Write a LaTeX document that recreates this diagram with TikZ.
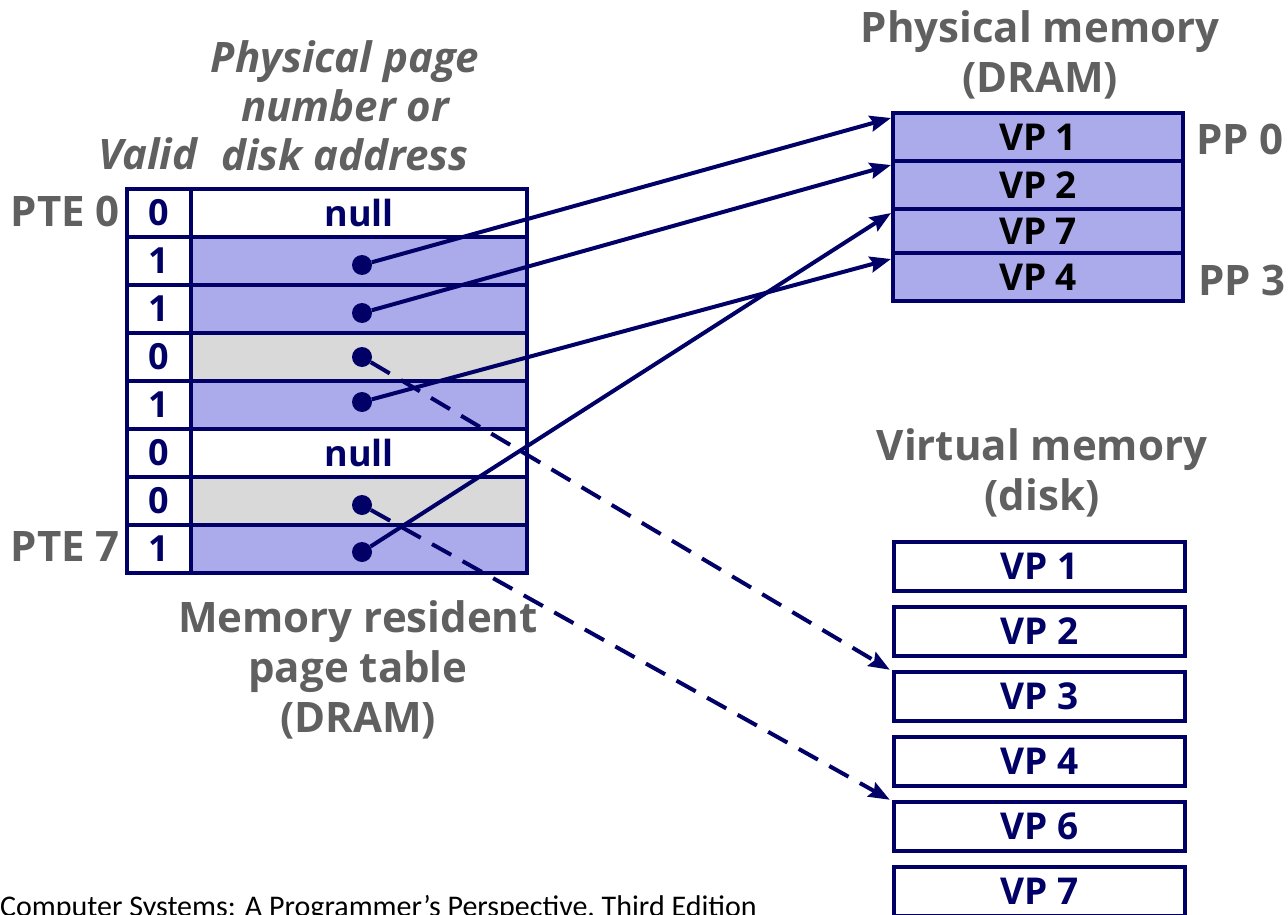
\documentclass[tikz,border=0pt]{standalone}
\usepackage{fontspec}
\setmainfont{Open Sans}
\newfontfamily\footfont{Carlito}
\usetikzlibrary{arrows.meta,calc}
\definecolor{navy}{HTML}{000066}
\definecolor{vblue}{HTML}{ABABEB}
\definecolor{lgray}{HTML}{D9D9D9}
\definecolor{labgray}{HTML}{606060}
\begin{document}
\begin{tikzpicture}[x=1pt,y=-1pt,
  cellv/.style={draw=navy, line width=4.5pt, minimum width=64pt, minimum height=48pt, inner sep=0pt, font=\fontsize{36}{36}\selectfont\bfseries, text=navy},
  cellp/.style={cellv, minimum width=336pt},
  pmrow/.style={draw=navy, line width=4pt, fill=vblue, minimum width=290pt, inner sep=0pt, font=\fontsize{37}{37}\selectfont\bfseries, text=black},
  diskbox/.style={draw=navy, line width=4.5pt, fill=white, minimum width=291pt, minimum height=49pt, inner sep=0pt, font=\fontsize{37}{37}\selectfont\bfseries, text=navy},
  dot/.style={circle, fill=navy, minimum size=20pt, inner sep=0pt},
  lbl/.style={font=\fontsize{42}{50}\selectfont\bfseries, text=labgray, align=center, inner sep=0pt},
  lbli/.style={lbl, font=\fontsize{42}{49}\selectfont\bfseries\itshape},
  arr/.style={draw=navy, line width=4pt, -{Stealth[length=21pt,width=16pt,inset=3pt]}},
  darr/.style={arr, dash pattern=on 22pt off 13pt}
]
\useasboundingbox[fill=white] (0,0) rectangle (1288,915);

% page table
\node[cellp, fill=white] (p0) at (359,213) {null};
\node[cellp, fill=vblue] (p1) at (359,261) {};
\node[cellp, fill=vblue] (p2) at (359,309) {};
\node[cellp, fill=lgray] (p3) at (359,357) {};
\node[cellp, fill=vblue] (p4) at (359,405) {};
\node[cellp, fill=white] (p5) at (359,453) {null};
\node[cellp, fill=lgray] (p6) at (359,501) {};
\node[cellp, fill=vblue] (p7) at (359,549) {};
\node[cellv, fill=white] (v0) at (159,213) {0};
\node[cellv, fill=white] (v1) at (159,261) {1};
\node[cellv, fill=white] (v2) at (159,309) {1};
\node[cellv, fill=white] (v3) at (159,357) {0};
\node[cellv, fill=white] (v4) at (159,405) {1};
\node[cellv, fill=white] (v5) at (159,453) {0};
\node[cellv, fill=white] (v6) at (159,501) {0};
\node[cellv, fill=white] (v7) at (159,549) {1};

% dots
\node[dot] (d1) at (362,265) {};
\node[dot] (d2) at (362,313) {};
\node[dot] (d3) at (362,357) {};
\node[dot] (d4) at (362,402) {};
\node[dot] (d6) at (362,505) {};
\node[dot] (d7) at (362,552) {};

% physical memory
\node[pmrow, minimum height=48pt] (pm1) at (1038,137) {VP 1};
\node[pmrow, minimum height=48pt] (pm2) at (1038,185) {VP 2};
\node[pmrow, minimum height=44pt] (pm7) at (1038,231) {VP 7};
\node[pmrow, minimum height=48pt] (pm4) at (1038,277) {VP 4};

% disk
\node[diskbox] (k1) at (1039.5,566.5) {VP 1};
\node[diskbox] (k2) at (1039.5,631.5) {VP 2};
\node[diskbox] (k3) at (1039.5,696.5) {VP 3};
\node[diskbox] (k4) at (1039.5,761.5) {VP 4};
\node[diskbox] (k6) at (1039.5,826.5) {VP 6};
\node[diskbox] (k7) at (1039.5,891.5) {VP 7};

% arrow targets
\coordinate (t1) at ($(pm1.north west)+(0,7)$);
\coordinate (t2) at ($(pm2.north west)+(0,6)$);
\coordinate (t7) at ($(pm7.north west)+(0,6)$);
\coordinate (t4) at ($(pm4.north west)+(0,8)$);
\coordinate (t3) at ($(k3.north west)+(-2,0)$);
\coordinate (t6) at ($(k6.north west)+(-2,0)$);

\draw[darr] (d3) -- (t3);
\draw[darr] (d6) -- (t6);
\draw[arr] (d1) -- (t1);
\draw[arr] (d2) -- (t2);
\draw[arr] (d4) -- (t4);
\draw[arr] (d7) -- (t7);

% labels
\node[lbli, anchor=north] (ppn) at (345,40) {Physical page\\number or\\disk address};
\node[lbli, anchor=base] (valid) at (148,170) {Valid};
\node[lbl, anchor=base east] (pte0) at (120,226) {PTE 0};
\node[lbl, anchor=base east] (pte7) at (120,561) {PTE 7};
\node[lbl, anchor=north] (mrpt) at (358,600) {Memory resident\\page table\\(DRAM)};
\node[lbl, anchor=north] (pmt) at (1040,10) {Physical memory\\(DRAM)};
\node[lbl, anchor=north] (vmt) at (1042,428) {Virtual memory\\(disk)};
\node[lbl, anchor=base west] (pp0) at (1196,154) {PP 0};
\node[lbl, anchor=base west] (pp3) at (1198,295) {PP 3};
\node[anchor=base west, inner sep=0pt, font=\footfont\fontsize{30}{30}\selectfont, text=black] (foot) at (0,916) {Computer Systems: A Programmer’s Perspective, Third Edition};
\end{tikzpicture}
\end{document}
